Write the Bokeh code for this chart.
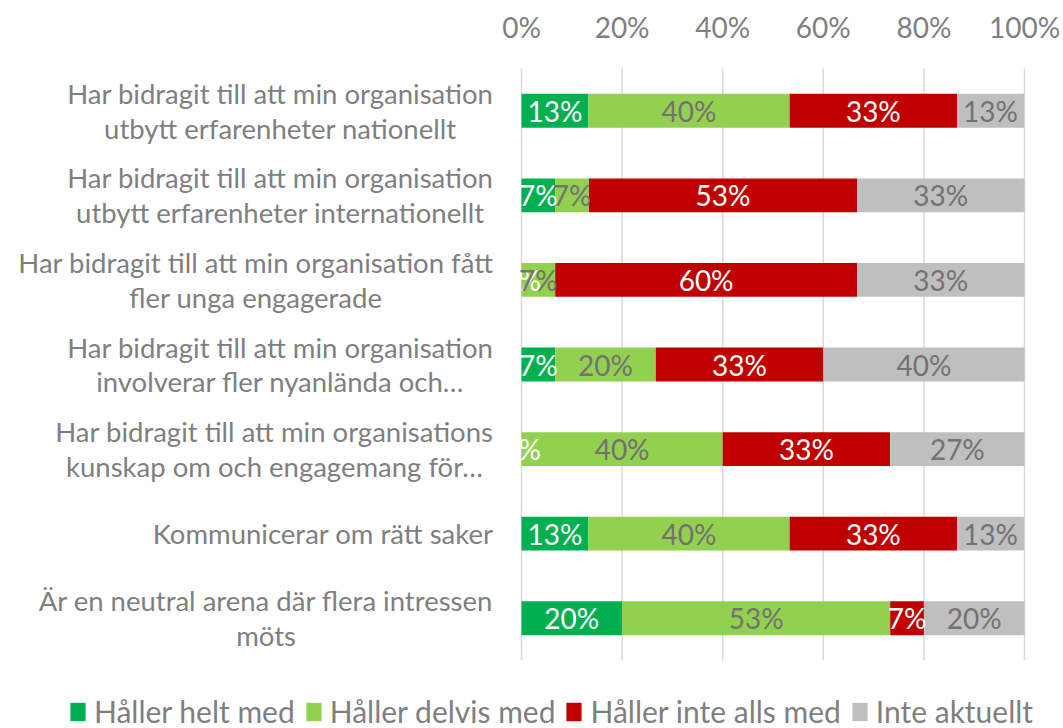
from bokeh.plotting import figure
from bokeh.models import (ColumnDataSource, FactorRange, Range1d, Legend, LegendItem, Label)
from bokeh.core.properties import value
from bokeh.embed import file_html
from bokeh.resources import INLINE

categories = [
    "Har bidragit till att min organisation\nutbytt erfarenheter nationellt",
    "Har bidragit till att min organisation\nutbytt erfarenheter internationellt",
    "Har bidragit till att min organisation fått\nfler unga engagerade",
    "Har bidragit till att min organisation\ninvolverar fler nyanlända och…",
    "Har bidragit till att min organisations\nkunskap om och engagemang för…",
    "Kommunicerar om rätt saker",
    "Är en neutral arena där flera intressen\nmöts",
]
series_names = ["Håller helt med", "Håller delvis med", "Håller inte alls med", "Inte aktuellt"]
helt = [13.3, 6.7, 0.0, 6.7, 0.0, 13.3, 20.0]
delvis = [40.0, 6.7, 6.7, 20.0, 40.0, 40.0, 53.3]
inte = [33.3, 53.3, 60.0, 33.3, 33.3, 33.3, 6.7]
ej = [13.3, 33.3, 33.3, 40.0, 26.7, 13.3, 20.0]
x_ticks = [0, 20, 40, 60, 80, 100]
x_tick_labels = ["0%", "20%", "40%", "60%", "80%", "100%"]

colors = ["#00B050", "#92D050", "#C00000", "#BFBFBF"]
label_colors = ["#FFFFFF", "#767171", "#FFFFFF", "#767171"]
FONT = "Lato"
TXT = "#7F7F7F"

W, H = 1063, 728
PLOT_L, PLOT_R, PLOT_T, PLOT_B = 521, 1024, 68, 660  # plot-area edges in pixels

keys = ["helt", "delvis", "inte", "ej"]
src = ColumnDataSource(dict(cat=categories, helt=helt, delvis=delvis, inte=inte, ej=ej))

n = len(categories)
px_per_unit = (PLOT_R - PLOT_L) / 100.0
band_px = (PLOT_B - PLOT_T) / n
x_range = Range1d(-PLOT_L / px_per_unit, 100 + (W - PLOT_R) / px_per_unit)
y_range = FactorRange(factors=list(reversed(categories)),
                      range_padding=PLOT_T / band_px, range_padding_units="absolute")

p = figure(width=W, height=H, x_range=x_range, y_range=y_range,
           output_backend="svg", toolbar_location=None,
           min_border=0, min_border_left=0, min_border_right=0,
           min_border_top=0, min_border_bottom=0)
p.axis.visible = False
p.grid.visible = False
p.outline_line_color = None

# gridlines over the plot area only
p.segment(x0=x_ticks, x1=x_ticks, y0=[0] * len(x_ticks), y1=[n] * len(x_ticks),
          line_color="#D9D9D9", line_width=1.5)

# tick labels on top
p.text(x=x_ticks, y=[n + 41 / band_px] * len(x_ticks), text=x_tick_labels,
       text_align="center", text_baseline="middle", text_color=TXT,
       text_font=value(FONT), text_font_size="28px")

renderers = p.hbar_stack(keys, y="cat", height=0.4, color=colors, line_color=None, source=src)

# data labels
series_vals = [helt, delvis, inte, ej]
start = [0.0] * n
for vals, lc in zip(series_vals, label_colors):
    xs = [s + v / 2 for s, v in zip(start, vals)]
    txt = [f"{round(v)}%" for v in vals]
    lsrc = ColumnDataSource(dict(x=xs, y=categories, t=txt))
    p.text(x="x", y="y", text="t", source=lsrc, text_align="center", text_baseline="middle",
           text_color=lc, text_font=value(FONT), text_font_size="28px")
    start = [s + v for s, v in zip(start, vals)]

# category labels (lines centred, block right-aligned)
for k, c in enumerate(categories):
    p.add_layout(Label(x=-28 / px_per_unit, y=n - k - 0.5, text=c,
                       anchor="center_right", text_align="center", text_baseline="middle",
                       text_font=FONT, text_font_size="27.5px", text_color=TXT,
                       text_line_height=1.06))

legend = Legend(items=[LegendItem(label=s, renderers=[r]) for s, r in zip(series_names, renderers)],
                orientation="horizontal", location=(68, -1),
                label_text_font=FONT, label_text_font_size="30px", label_text_color=TXT,
                glyph_width=19, glyph_height=23, label_standoff=7, spacing=9,
                padding=0, margin=0, border_line_color=None, background_fill_alpha=0)
p.add_layout(legend, "center")

open("out.html", "w").write(file_html(p, INLINE))
